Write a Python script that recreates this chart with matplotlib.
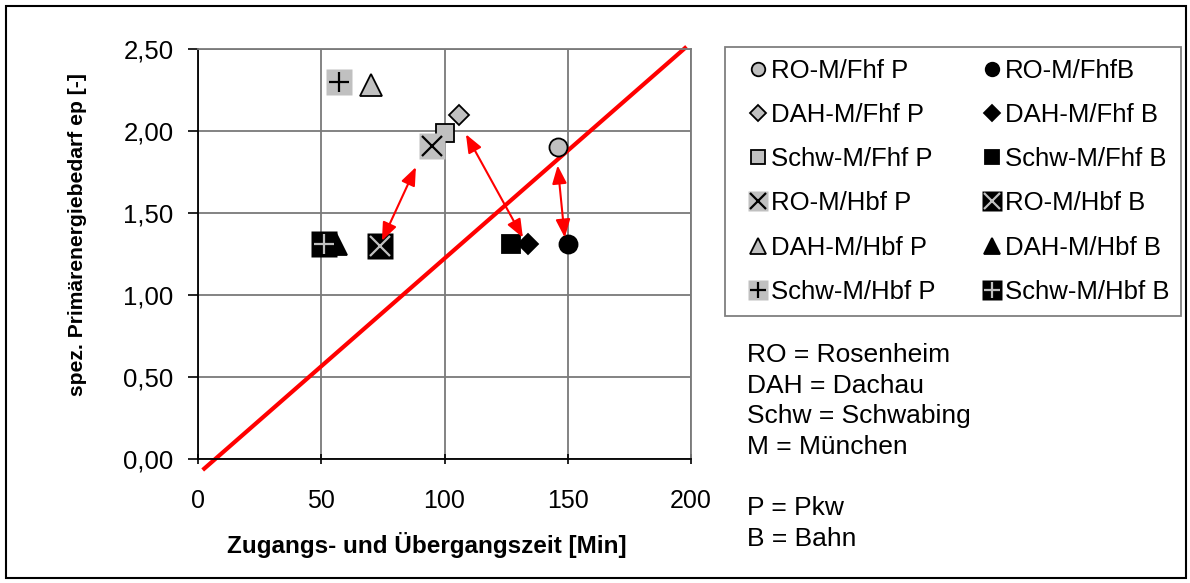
import matplotlib
matplotlib.use("Agg")
import matplotlib.pyplot as plt
from matplotlib.patches import Rectangle
from matplotlib.legend_handler import HandlerTuple

plt.rcParams['font.family'] = ['Liberation Sans', 'DejaVu Sans']

# ---- data ----
series_names = ["RO-M/Fhf P", "RO-M/FhfB", "DAH-M/Fhf P", "DAH-M/Fhf B",
                "Schw-M/Fhf P", "Schw-M/Fhf B", "RO-M/Hbf P", "RO-M/Hbf B",
                "DAH-M/Hbf P", "DAH-M/Hbf B", "Schw-M/Hbf P", "Schw-M/Hbf B"]
x_values = [146, 150, 106, 134, 100, 127, 95, 74, 70, 56, 57, 51]
y_values = [1.90, 1.31, 2.10, 1.31, 1.99, 1.31, 1.91, 1.30, 2.28, 1.31, 2.30, 1.31]

# double-headed arrows (start x, start y, end x, end y)
arrow_x0 = [74.6, 108.7, 148.8]
arrow_y0 = [1.33, 1.98, 1.35]
arrow_x1 = [88.4, 131.8, 145.9]
arrow_y1 = [1.78, 1.35, 1.79]

# red reference line
line_x = [1.9, 198.2]
line_y = [-0.067, 2.514]

x_ticks = [0, 50, 100, 150, 200]
y_ticks = [0.0, 0.5, 1.0, 1.5, 2.0, 2.5]
y_tick_labels = ["0,00", "0,50", "1,00", "1,50", "2,00", "2,50"]

GRAY = "#c0c0c0"
BLACK = "#000000"

fig = plt.figure(figsize=(11.9, 5.83), dpi=100)
ax = fig.add_axes([198/1190, 1-459/583, 493/1190, 410/583])

ax.set_xlim(0, 200)
ax.set_ylim(0, 2.5)
ax.set_xticks(x_ticks)
ax.set_xticklabels([str(t) for t in x_ticks])
ax.set_yticks(y_ticks)
ax.set_yticklabels(y_tick_labels)
ax.grid(True, color="#7a7a7a", lw=1.3)
ax.set_axisbelow(True)
for s in ["top", "right"]:
    ax.spines[s].set_color("#7a7a7a")
    ax.spines[s].set_linewidth(1.3)
ax.spines["left"].set_color(BLACK)
ax.spines["bottom"].set_color(BLACK)
ax.spines["left"].set_linewidth(1.3)
ax.spines["bottom"].set_linewidth(1.3)
ax.tick_params(axis="y", direction="out", length=7, width=1.2, pad=10.5, labelsize=18.5)
ax.tick_params(axis="x", direction="inout", length=7, width=1.2, pad=18, labelsize=18)

# marker styles per series
styles = [
    dict(marker="o", ms=13, mfc=GRAY, mec=BLACK),
    dict(marker="o", ms=13, mfc=BLACK, mec=BLACK),
    dict(marker="D", ms=10.5, mfc=GRAY, mec=BLACK),
    dict(marker="D", ms=10.5, mfc=BLACK, mec=BLACK),
    dict(marker="s", ms=13, mfc=GRAY, mec=BLACK),
    dict(marker="s", ms=13, mfc=BLACK, mec=BLACK),
    "xp", "xb",
    dict(marker="^", ms=16, mfc=GRAY, mec=BLACK),
    dict(marker="^", ms=16, mfc=BLACK, mec=BLACK),
    "pp", "pb",
]

handles = []
for i, (name, st) in enumerate(zip(series_names, styles)):
    xv, yv = [x_values[i]], [y_values[i]]
    if isinstance(st, dict):
        h, = ax.plot(xv, yv, ls="none", mew=1.3, zorder=3 + i * 0.1, **st)
        handles.append(h)
    else:
        bg = GRAY if st[1] == "p" else BLACK
        fg = BLACK if st[1] == "p" else GRAY
        sym = "x" if st[0] == "x" else "+"
        h1, = ax.plot(xv, yv, ls="none", marker="s", ms=18.5, mfc=bg, mec="none",
                      zorder=3 + i * 0.1)
        h2, = ax.plot(xv, yv, ls="none", marker=sym, ms=15, mec=fg, mew=1.6,
                      zorder=3 + i * 0.1 + 0.05)
        handles.append((h1, h2))

# red line
ax.plot(line_x, line_y, color="#ff0000", lw=3, clip_on=False, zorder=2.5,
        solid_capstyle="butt")

# arrows
for x0, y0, x1, y1 in zip(arrow_x0, arrow_y0, arrow_x1, arrow_y1):
    ax.annotate("", xy=(x1, y1), xytext=(x0, y0),
                arrowprops=dict(arrowstyle="<|-|>,head_length=1.0,head_width=0.4",
                                mutation_scale=11, color="#ff0000", lw=1.5,
                                shrinkA=0, shrinkB=0), zorder=6)

# legend: two columns, P in left col, B in right col
order = [0, 2, 4, 6, 8, 10, 1, 3, 5, 7, 9, 11]
leg = fig.legend([handles[k] for k in order], [series_names[k] for k in order],
                 ncol=2, loc="upper left",
                 bbox_to_anchor=(725/1190, 1-317/583, 456/1190, 270/583),
                 mode="expand", borderaxespad=0, fontsize=18.5,
                 markerscale=0.75, handlelength=1.7, handletextpad=-0.35,
                 labelspacing=0.79, borderpad=0.45, columnspacing=1.0,
                 frameon=True, fancybox=False, edgecolor="#606060",
                 handler_map={tuple: HandlerTuple(ndivide=1, pad=0)})
leg.get_frame().set_linewidth(1.3)

# explanation text
fig.text(747/1190, 1-343/583,
         "RO = Rosenheim\nDAH = Dachau\nSchw = Schwabing\nM = München\n\nP = Pkw\nB = Bahn",
         fontsize=19, va="top", ha="left", linespacing=1.35)

# axis labels
fig.text(427/1190, 1-545/583, "Zugangs- und Übergangszeit [Min]", fontsize=17.5,
         fontweight="bold", ha="center", va="center")
fig.text(78/1190, 1-234/583, "spez. Primärenergiebedarf ep [-]", fontsize=15.2,
         fontweight="bold", ha="center", va="center", rotation=90)

# outer border
fig.patches.append(Rectangle((6/1190, 5/583), 1180/1190, 572/583, transform=fig.transFigure,
                             fill=False, edgecolor=BLACK, lw=1.5))

fig.savefig("out.png", dpi=100)
